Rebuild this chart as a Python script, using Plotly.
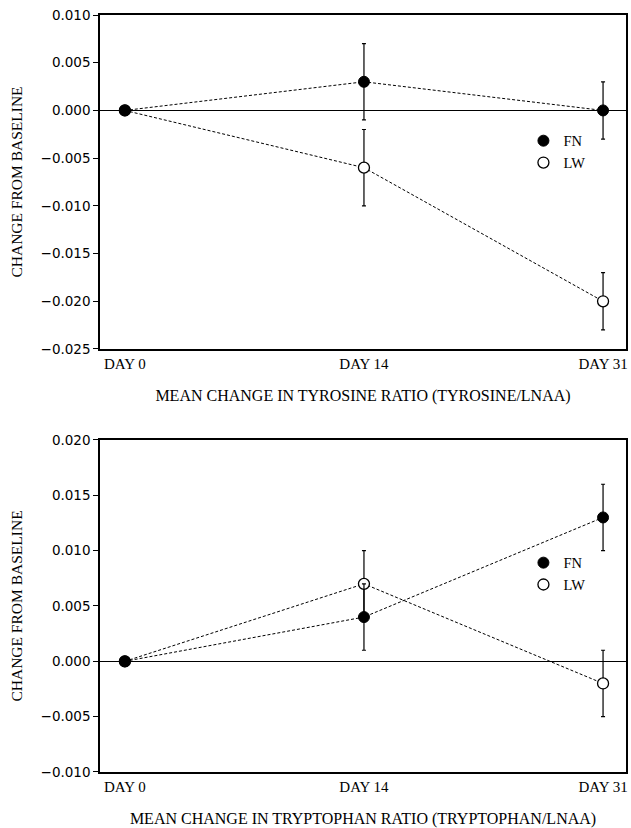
import plotly.graph_objects as go
from plotly.subplots import make_subplots

days = ["DAY 0", "DAY 14", "DAY 31"]

tyr_fn = [0.0, 0.003, 0.0]
tyr_fn_err = [0.0, 0.004, 0.003]
tyr_lw = [0.0, -0.006, -0.020]
tyr_lw_err = [0.0, 0.004, 0.003]

trp_fn = [0.0, 0.004, 0.013]
trp_fn_err = [0.0, 0.003, 0.003]
trp_lw = [0.0, 0.007, -0.002]
trp_lw_err = [0.0, 0.003, 0.003]

series_names = ["FN", "LW"]

SERIF = "Liberation Serif, Times New Roman, serif"
SANS = "DejaVu Sans, Arial, sans-serif"

fig = make_subplots(rows=2, cols=1, vertical_spacing=0.12)

panels = [
    (1, tyr_fn, tyr_fn_err, tyr_lw, tyr_lw_err, "legend"),
    (2, trp_fn, trp_fn_err, trp_lw, trp_lw_err, "legend2"),
]

for row, fn, fn_err, lw, lw_err, leg in panels:
    # dashed connecting lines
    for vals in (lw, fn):
        fig.add_trace(go.Scatter(
            x=days, y=vals, mode="lines",
            line=dict(color="black", width=1, dash="3px,2px"),
            showlegend=False, hoverinfo="skip"), row=row, col=1)
    # LW open circles
    fig.add_trace(go.Scatter(
        x=days, y=lw, mode="markers", name=series_names[1],
        marker=dict(symbol="circle", size=11, color="white",
                    line=dict(color="black", width=1.3)),
        error_y=dict(type="data", array=lw_err, color="black",
                     thickness=1.2, width=2),
        legend=leg), row=row, col=1)
    # FN filled circles
    fig.add_trace(go.Scatter(
        x=days, y=fn, mode="markers", name=series_names[0],
        marker=dict(symbol="circle", size=11, color="black",
                    line=dict(color="black", width=1)),
        error_y=dict(type="data", array=fn_err, color="black",
                     thickness=1.2, width=2),
        legend=leg), row=row, col=1)

axis_common = dict(showline=True, linecolor="black", linewidth=1.5,
                   mirror=True, showgrid=False)

fig.update_xaxes(type="category", range=[-0.104, 2.096], ticks="",
                 tickfont=dict(family=SERIF, size=15, color="black"),
                 title_font=dict(family=SERIF, size=16, color="black"),
                 title_standoff=19, **axis_common)
fig.update_yaxes(ticks="outside", ticklen=5, tickcolor="black",
                 tickformat=".3f", dtick=0.005,
                 tickfont=dict(family=SANS, size=13.5, color="black"),
                 title_font=dict(family=SERIF, size=15.5, color="black"),
                 title_standoff=14,
                 zeroline=True, zerolinecolor="black", zerolinewidth=1,
                 **axis_common)

fig.update_xaxes(title_text="MEAN CHANGE IN TYROSINE RATIO (TYROSINE/LNAA)", row=1, col=1)
fig.update_xaxes(title_text="MEAN CHANGE IN TRYPTOPHAN RATIO (TRYPTOPHAN/LNAA)", row=2, col=1)
fig.update_yaxes(title_text="CHANGE FROM BASELINE", range=[-0.025, 0.010], row=1, col=1)
fig.update_yaxes(title_text="CHANGE FROM BASELINE", range=[-0.010, 0.020], row=2, col=1)

legend_style = dict(xanchor="left", yanchor="top",
                    bgcolor="rgba(0,0,0,0)", traceorder="reversed",
                    font=dict(family=SERIF, size=14.5, color="black"),
                    itemwidth=30, tracegroupgap=0, itemsizing="trace")

fig.update_layout(
    width=631, height=828,
    margin=dict(l=100, r=3, t=15, b=56),
    plot_bgcolor="white", paper_bgcolor="white",
    xaxis=dict(domain=[0, 1]),
    yaxis=dict(domain=[0.5588, 1.0]),
    yaxis2=dict(domain=[0.0, 0.4386]),
    legend=dict(x=0.805, y=0.855, **legend_style),
    legend2=dict(x=0.805, y=0.2976, **legend_style),
    showlegend=True,
)

fig.write_html("out.html",
               config={"displayModeBar": False},
               post_script="document.body.style.margin='0';document.body.style.padding='0';")
